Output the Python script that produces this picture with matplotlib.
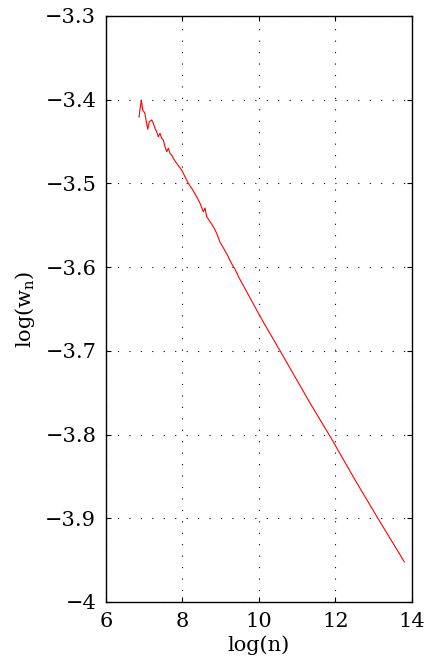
import matplotlib
matplotlib.use('Agg')
import matplotlib.pyplot as plt

# 讀圖估計的資料點 (log(n), log(w_n))
log_n = [6.863, 6.923, 6.959, 6.993, 7.020, 7.038, 7.090, 7.132, 7.195, 7.237,
         7.281, 7.325, 7.367, 7.412, 7.456, 7.498, 7.542, 7.587, 7.629, 7.673,
         7.718, 7.759, 7.846, 7.979, 8.065, 8.152, 8.240, 8.371, 8.458, 8.544,
         8.588, 8.633, 8.719, 8.806, 8.894, 8.980, 9.156, 9.286, 9.373, 9.459,
         9.660, 10.105, 10.549, 11.333, 11.908, 12.510, 13.085, 13.799]
log_w = [-3.4207, -3.4003, -3.4123, -3.4143, -3.4171, -3.4222, -3.4353, -3.4263, -3.4242, -3.4282,
         -3.4342, -3.4382, -3.4442, -3.4401, -3.4461, -3.4481, -3.4561, -3.4621, -3.4580, -3.4640,
         -3.4661, -3.4700, -3.4760, -3.4840, -3.4920, -3.4999, -3.5058, -3.5159, -3.5237, -3.5338,
         -3.5294, -3.5398, -3.5457, -3.5517, -3.5596, -3.5700, -3.5840, -3.5960, -3.6025, -3.6110,
         -3.6279, -3.6650, -3.6998, -3.7622, -3.8060, -3.8541, -3.8983, -3.9520]

x_ticks = [6, 8, 10, 12, 14]
y_ticks = [-4, -3.9, -3.8, -3.7, -3.6, -3.5, -3.4, -3.3]
y_tick_labels = ['\u22124', '\u22123.9', '\u22123.8', '\u22123.7', '\u22123.6', '\u22123.5', '\u22123.4', '\u22123.3']

plt.rcParams['font.family'] = ['DejaVu Serif']
plt.rcParams['mathtext.fontset'] = 'dejavuserif'

fig = plt.figure(figsize=(4.25, 6.66), dpi=100)
ax = fig.add_axes([0.2494, 0.0961, 0.72, 0.8799])

ax.plot(log_n, log_w, color='red', linewidth=0.8)

ax.set_xlim(6, 14)
ax.set_ylim(-4, -3.3)
ax.set_xticks(x_ticks)
ax.set_xticklabels([str(t) for t in x_ticks])
ax.set_yticks(y_ticks)
ax.set_yticklabels(y_tick_labels)

# MATLAB 風格的點狀格線
ax.grid(True, color='k', linestyle=(0, (1, 9.3)), linewidth=0.8)
ax.tick_params(direction='in', top=True, right=True, length=3.6, width=0.8,
               labelsize=15, pad=7)
for s in ax.spines.values():
    s.set_linewidth(1.0)

ax.set_xlabel('log(n)', fontsize=15, labelpad=3)
ax.set_ylabel('log(w$\\mathregular{_n}$)', fontsize=15, labelpad=6)

fig.savefig('out.png', dpi=100)
